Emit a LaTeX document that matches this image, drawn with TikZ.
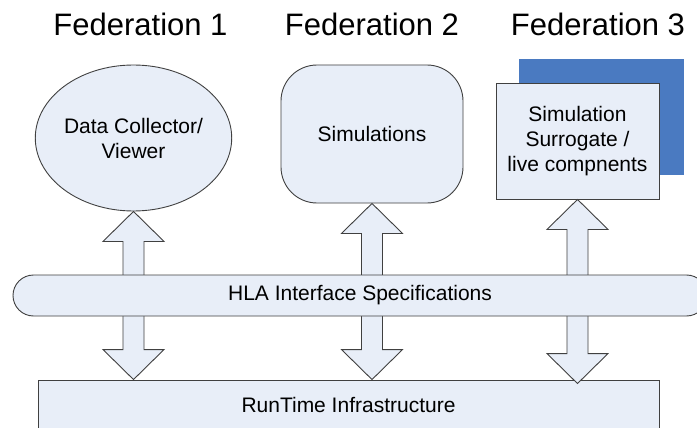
\documentclass[tikz,border=0pt]{standalone}
\usepackage{fontspec}
\setmainfont{Liberation Sans}
\usetikzlibrary{calc,shapes.geometric}
\definecolor{paleblue}{HTML}{E8EEF8}
\definecolor{deepblue}{HTML}{4A7AC1}
\definecolor{edgegray}{HTML}{404040}

% double-headed block arrow between two points (top tip, bottom tip)
\newcommand\dblarrow[2]{%
  \draw[blockarrow] (#1) -- ($(#1)+(30.5,30)$) -- ($(#1)+(10.5,30)$)
    -- ($(#2)+(10.5,-30)$) -- ($(#2)+(30.5,-30)$) -- (#2)
    -- ($(#2)+(-30.5,-30)$) -- ($(#2)+(-10.5,-30)$)
    -- ($(#1)+(-10.5,30)$) -- ($(#1)+(-30.5,30)$) -- cycle;}

\begin{document}
\begin{tikzpicture}[x=1pt,y=-1pt,
  boxstyle/.style={draw=edgegray, line width=0.9pt, fill=paleblue, inner sep=0pt,
    align=center, font=\fontsize{21}{25}\selectfont},
  fedtitle/.style={font=\fontsize{31}{36}\selectfont, anchor=base, inner sep=0pt},
  blockarrow/.style={draw=edgegray, line width=0.9pt, fill=paleblue, line join=miter}]
\useasboundingbox (0,0) rectangle (697,428);
\clip (0,0) rectangle (697,428);
\fill[white] (0,0) rectangle (697,428);

% federation titles
\node[fedtitle] (t1) at (140.5,36) {Federation 1};
\node[fedtitle] (t2) at (372,36) {Federation 2};
\node[fedtitle] (t3) at (598,36) {Federation 3};

% federates
\node[fill=deepblue, minimum width=165, minimum height=116, inner sep=0pt] (back) at (601.5,117) {};
\node[boxstyle, minimum width=163, minimum height=116] (sur) at (577.5,141)
  {Simulation\\Surrogate /\\live compnents};
\node[boxstyle, ellipse, minimum width=191, minimum height=146] (ell) at (133.5,138)
  {Data Collector/\\Viewer};
\node[boxstyle, rounded corners=36pt, minimum width=182, minimum height=138] (sims) at (372,134)
  {Simulations};

% runtime infrastructure
\node[boxstyle, minimum width=621, minimum height=50] (rti) at (348.5,405)
  {RunTime Infrastructure};

% connectors
\coordinate (b1) at (ell.south |- rti.north);
\coordinate (b2) at (sims.south |- rti.north);
\coordinate (b3) at ($(sur.south |- rti.north)+(0,4)$);
\dblarrow{ell.south}{b1}
\dblarrow{sims.south}{b2}
\dblarrow{sur.south}{b3}

% interface layer
\node[boxstyle, rounded corners=20.5pt, minimum width=694, minimum height=41] (hla) at (360,295.5) {};
\node[font=\fontsize{21}{25}\selectfont, inner sep=0pt] (hlatext) at (360,295.5) {HLA Interface Specifications};
\end{tikzpicture}
\end{document}
